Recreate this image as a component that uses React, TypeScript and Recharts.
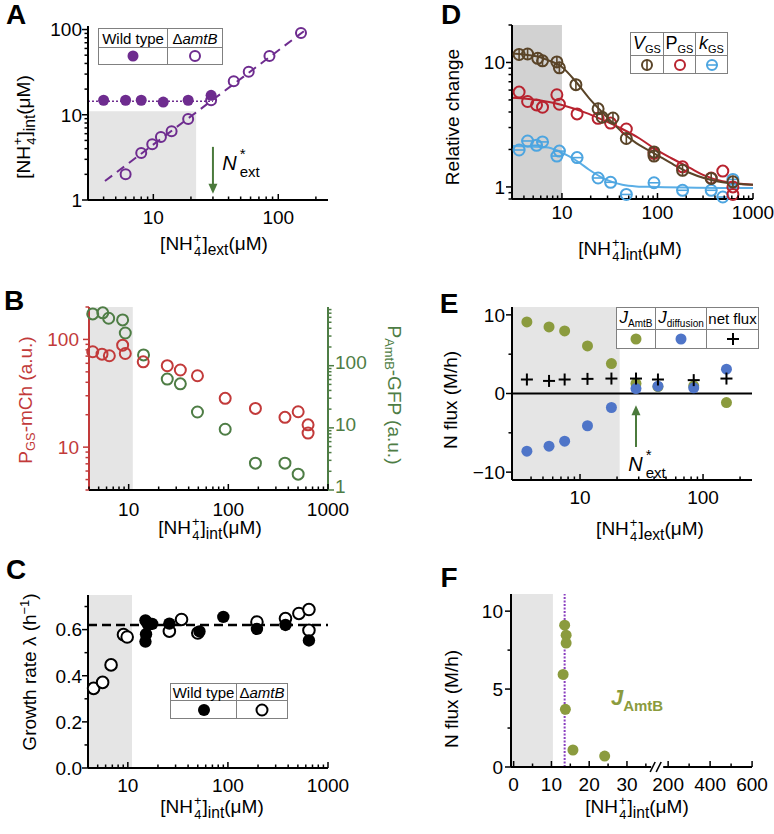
import React from "react";
import {
  ComposedChart,
  XAxis,
  YAxis,
  Scatter,
  Line,
  ReferenceArea,
  ReferenceLine,
} from "recharts";

const W = 774;
const H = 834;
const FONT = '"Liberation Sans", Arial, Helvetica, sans-serif';

const PURPLE = "#6e2c8f";
const ARROW_GREEN = "#4b7a3c";
const B_RED = "#c23a3a";
const B_GREEN = "#4e7d45";
const D_BROWN = "#5a4428";
const D_RED = "#b8232f";
const D_BLUE = "#4da5e0";
const OLIVE = "#8b9b3e";
const E_BLUE = "#4f75c8";
const SHADE = "#e5e5e5";
const SHADE_D = "#d2d2d2";

// ---- A: internal vs external ammonium ----
const A_WT_EXT = [4, 6, 8, 12, 19, 29];
const A_WT_INT = [14.8, 14.8, 14.8, 14.1, 14.8, 16.9];
const A_KO_EXT = [6, 8, 9.8, 11.5, 14, 19, 29, 44, 58, 85, 152];
const A_KO_INT = [2.0, 3.55, 4.5, 5.5, 6.4, 8.9, 14.8, 24.7, 32, 49, 91];
const A_WT_LEVEL_EXT = [3, 30];
const A_WT_LEVEL = [14.4, 14.4];
const A_KO_FIT_EXT = [4.1, 167];
const A_KO_FIT = [1.67, 100];
const A_X_TICKS = [4, 5, 6, 7, 8, 9, 10, 20, 30, 40, 50, 60, 70, 80, 90, 100, 200];
const A_X_LABELS = { 10: "10", 100: "100" };
const A_Y_TICKS = [1, 2, 3, 4, 5, 6, 7, 8, 9, 10, 20, 30, 40, 50, 60, 70, 80, 90, 100];
const A_Y_LABELS = { 1: "1", 10: "10", 100: "100" };

// ---- B: reporters ----
const B_RED_INT = [4.36, 5.4, 6.4, 8.7, 9.25, 14, 24.4, 33, 49, 93, 187, 370, 502, 631, 631];
const B_RED_VAL = [76.8, 73, 70.5, 88.5, 74, 62, 57, 52, 46, 28.4, 22.9, 18.9, 21.3, 16.1, 13.5];
const B_GREEN_INT = [4.36, 5.5, 6.3, 8.7, 9.25, 14.1, 24.4, 33, 49, 93, 187, 370, 502];
const B_GREEN_VAL = [682, 708, 580, 545, 336, 149, 61, 51, 18, 9.5, 2.7, 2.7, 1.8];
const LOG_X_TICKS = [4, 5, 6, 7, 8, 9, 10, 20, 30, 40, 50, 60, 70, 80, 90, 100, 200, 300, 400, 500, 600, 700, 800, 900, 1000];
const LOG_X_LABELS = { 10: "10", 100: "100", 1000: "1000" };
const B_RED_TICKS = [4, 5, 6, 7, 8, 9, 10, 20, 30, 40, 50, 60, 70, 80, 90, 100, 200];
const B_RED_LABELS = { 10: "10", 100: "100" };
const B_GREEN_TICKS = [1, 2, 3, 4, 5, 6, 7, 8, 9, 10, 20, 30, 40, 50, 60, 70, 80, 90, 100, 200, 300, 400, 500, 600, 700, 800];
const B_GREEN_LABELS = { 1: "1", 10: "10", 100: "100" };

// ---- C: growth rate ----
const C_KO_INT = [4.55, 5.6, 6.8, 9.05, 9.85, 26, 34.4, 50, 195, 376, 512, 645, 645];
const C_KO_RATE = [0.345, 0.371, 0.447, 0.578, 0.568, 0.593, 0.644, 0.585, 0.633, 0.648, 0.67, 0.687, 0.597];
const C_WT_INT = [15, 15.5, 16, 15.2, 15, 17.5, 26, 52, 90, 195, 376, 645];
const C_WT_RATE = [0.64, 0.632, 0.62, 0.58, 0.548, 0.625, 0.626, 0.592, 0.655, 0.603, 0.62, 0.553];
const C_MEAN_RATE = 0.62;
const C_Y_TICKS = [0, 0.1, 0.2, 0.3, 0.4, 0.5, 0.6, 0.7];
const C_Y_LABELS = { 0: "0.0", 0.2: "0.2", 0.4: "0.4", 0.6: "0.6" };

// ---- D: relative change ----
const D_V_INT = [3.56, 4.37, 5.58, 6.26, 8.85, 9.4, 14, 23.9, 26.4, 34.2, 47.2, 92, 92, 183, 365, 616];
const D_V = [11.6, 11.7, 10.8, 10.3, 10.1, 9.06, 6.63, 4.24, 3.63, 3.58, 2.45, 1.91, 1.77, 1.36, 1.17, 1.1];
const D_P_INT = [3.56, 4.37, 5.42, 6.26, 8.85, 9.4, 14.4, 23.9, 32.3, 47.2, 92, 183, 365, 483, 616, 616];
const D_P = [5.78, 4.86, 4.56, 4.37, 5.5, 4.62, 3.86, 3.56, 3.26, 2.92, 1.86, 1.45, 1.18, 1.34, 1.0, 0.87];
const D_K_INT = [3.56, 4.37, 5.42, 6.26, 8.85, 9.4, 14.4, 23.9, 32.3, 47.2, 92, 183, 365, 483, 616];
const D_K = [1.98, 2.34, 2.16, 2.3, 1.77, 1.94, 1.72, 1.18, 1.09, 0.87, 1.08, 0.94, 0.94, 0.83, 1.15];
const D_V_FIT_INT = [3, 4, 5.7, 7, 10, 14, 19.1, 28, 42.8, 60, 96, 150, 216, 480, 1000];
const D_V_FIT = [11.8, 11.6, 11.1, 10.5, 9.2, 7.0, 5.2, 3.8, 2.75, 2.25, 1.83, 1.5, 1.3, 1.09, 1.04];
const D_P_FIT_INT = [3, 6, 10, 19.1, 28, 42.8, 65, 96, 140, 216, 300, 480, 1000];
const D_P_FIT = [5.2, 4.95, 4.56, 3.86, 3.4, 2.92, 2.45, 2.0, 1.7, 1.43, 1.25, 1.11, 1.04];
const D_K_FIT_INT = [3, 7.2, 9, 11.8, 15, 19.1, 28.6, 42.8, 60, 96, 1000];
const D_K_FIT = [2.13, 2.07, 1.95, 1.77, 1.58, 1.38, 1.15, 1.04, 1.01, 1.0, 0.98];
const D_X_TICKS = [3, ...LOG_X_TICKS];
const D_Y_TICKS = [0.8, 0.9, 1, 2, 3, 4, 5, 6, 7, 8, 9, 10, 20];
const D_Y_LABELS = { 1: "1", 10: "10" };

// ---- E: fluxes ----
const E_EXT = [3.7, 5.6, 7.5, 11.5, 18, 28.5, 43, 84, 155];
const E_AMTB = [9.1, 8.46, 7.95, 6.05, 3.8, 1.27, 0.87, 0.98, -1.15];
const E_DIFF = [-7.33, -6.7, -6.06, -4.1, -1.78, 0.63, 0.93, 0.72, 3.09];
const E_NET = [1.78, 1.6, 1.78, 1.86, 1.9, 1.9, 1.78, 1.7, 1.9];
const E_X_TICKS = [4, 5, 6, 7, 8, 9, 10, 20, 30, 40, 50, 60, 70, 80, 90, 100, 200];
const E_X_LABELS = { 10: "10", 100: "100" };
const E_Y_TICKS = [-10, -5, 0, 5, 10];
const E_Y_LABELS = { "-10": "\u221210", 0: "0", 10: "10" };

// ---- F: J_AmtB vs internal ----
const F_INT = [13.5, 13.9, 13.9, 13.1, 13.7, 15.7, 24.1];
const F_AMTB = [9.1, 8.46, 7.95, 5.94, 3.7, 1.09, 0.7];
const F_WT_LEVEL = 13.5;
const F_LOW_TICKS = [0, 5, 10, 15, 20, 25, 30, 35];
const F_HIGH_TICKS = [200, 300, 400, 500, 600];
const F_MAJOR = [0, 10, 20, 30, 200, 400, 600];
const F_BREAK = 38;
const F_Y_TICKS = [0, 2.5, 5, 7.5, 10];
const F_Y_LABELS = { 0: "0", 5: "5", 10: "10" };

// broken x axis: linear up to the break, compressed 200-600 segment after it
const brokenX = (v: number) => (v <= F_BREAK ? v : 40.9 + (v - 200) / 18);
const F_X_TICKS = [...F_LOW_TICKS, F_BREAK, ...F_HIGH_TICKS.map(brokenX)];
const F_X_LABELS: Record<string, string> = {};
F_MAJOR.forEach((v) => {
  F_X_LABELS[String(brokenX(v))] = String(v);
});

type Geo = { left: number; top: number; right: number; bottom: number };
const A_GEO: Geo = { left: 88, top: 26, right: 328, bottom: 200 };
const B_GEO: Geo = { left: 89, top: 307, right: 328, bottom: 490 };
const C_GEO: Geo = { left: 88, top: 595, right: 328, bottom: 768 };
const D_GEO: Geo = { left: 512, top: 25, right: 753, bottom: 199 };
const E_GEO: Geo = { left: 512, top: 307, right: 752, bottom: 480 };
const F_GEO: Geo = { left: 511, top: 594, right: 752, bottom: 767 };

const pts = (xs: number[], ys: number[]) => xs.map((x, i) => ({ x, y: ys[i] }));
const AXIS = { stroke: "#000", strokeWidth: 2 };

type Side = "bottom" | "left" | "right";
function tickRenderer(
  side: Side,
  labels: Record<string, string>,
  opts: { color?: string; gap?: number; breakAt?: number; dy?: number } = {}
) {
  const color = opts.color ?? "#000";
  const gap = opts.gap ?? 10;
  const dy = opts.dy ?? 6.8;
  return (props: any) => {
    const { x, y, payload } = props;
    const v = payload.value as number;
    const label = labels[String(v)];
    const major = label !== undefined;
    const len = major ? 6 : 3.5;
    if (opts.breakAt !== undefined && v === opts.breakAt) {
      return (
        <g>
          <rect x={x - 6} y={y - 3} width={12} height={6} fill="#fff" />
          <line x1={x - 7} y1={y + 5} x2={x - 2} y2={y - 5} stroke="#000" strokeWidth={1.6} />
          <line x1={x - 1} y1={y + 5} x2={x + 4} y2={y - 5} stroke="#000" strokeWidth={1.6} />
        </g>
      );
    }
    if (side === "bottom") {
      return (
        <g>
          <line x1={x} y1={y} x2={x} y2={y - len} stroke={color} strokeWidth={1.5} />
          {major && (
            <text x={x} y={y + gap + 13.6} textAnchor="middle" fontSize={19} fontFamily={FONT} fill={color}>
              {label}
            </text>
          )}
        </g>
      );
    }
    const dir = side === "left" ? -1 : 1;
    return (
      <g>
        <line x1={x} y1={y} x2={x + dir * len} y2={y} stroke={color} strokeWidth={1.5} />
        {major && (
          <text
            x={x + dir * gap}
            y={y + dy}
            textAnchor={side === "left" ? "end" : "start"}
            fontSize={19}
            fontFamily={FONT}
            fill={color}
          >
            {label}
          </text>
        )}
      </g>
    );
  };
}

const openCircle = (color: string, r = 5, fill = "none") => (p: any) => (
  <circle cx={p.cx} cy={p.cy} r={r} fill={fill} stroke={color} strokeWidth={2} />
);
const dot = (color: string, r = 5.5) => (p: any) => <circle cx={p.cx} cy={p.cy} r={r} fill={color} />;
const barCircle = (color: string, vertical: boolean) => (p: any) => (
  <g>
    <circle cx={p.cx} cy={p.cy} r={5.5} fill="none" stroke={color} strokeWidth={2} />
    {vertical ? (
      <line x1={p.cx} y1={p.cy - 6} x2={p.cx} y2={p.cy + 6} stroke={color} strokeWidth={1.6} />
    ) : (
      <line x1={p.cx - 6} y1={p.cy} x2={p.cx + 6} y2={p.cy} stroke={color} strokeWidth={1.6} />
    )}
  </g>
);
const plus = (p: any) => (
  <g stroke="#000" strokeWidth={2}>
    <line x1={p.cx - 6} y1={p.cy} x2={p.cx + 6} y2={p.cy} />
    <line x1={p.cx} y1={p.cy - 6} x2={p.cx} y2={p.cy + 6} />
  </g>
);
const headDown = (p: any) => (
  <polygon points={`${p.cx - 4.5},${p.cy - 10} ${p.cx + 4.5},${p.cy - 10} ${p.cx},${p.cy}`} fill={ARROW_GREEN} />
);
const headUp = (p: any) => (
  <polygon points={`${p.cx - 4.5},${p.cy + 10} ${p.cx + 4.5},${p.cy + 10} ${p.cx},${p.cy}`} fill={ARROW_GREEN} />
);

// axes get a 1px box (a 0px box is not drawn), so margins are shifted by 1
function Panel({ g, rightAxis = false, children }: { g: Geo; rightAxis?: boolean; children: React.ReactNode }) {
  return (
    <div style={{ position: "absolute", left: 0, top: 0 }}>
      <ComposedChart
        width={W}
        height={H}
        margin={{
          top: g.top,
          left: g.left - 1,
          right: W - g.right - (rightAxis ? 1 : 0),
          bottom: H - g.bottom - 1,
        }}
      >
        {children}
      </ComposedChart>
    </div>
  );
}

const Txt = ({
  x,
  y,
  rot = 0,
  size = 19,
  color = "#000",
  bold = false,
  children,
}: {
  x: number;
  y: number;
  rot?: number;
  size?: number;
  color?: string;
  bold?: boolean;
  children: React.ReactNode;
}) => (
  <div
    style={{
      position: "absolute",
      left: x,
      top: y,
      transform: `translate(-50%, -50%) rotate(${rot}deg)`,
      fontSize: size,
      color,
      whiteSpace: "nowrap",
      lineHeight: 1,
      fontWeight: bold ? 700 : 400,
    }}
  >
    {children}
  </div>
);

const Ion = ({ sub }: { sub: string }) => (
  <span>
    [NH
    <span
      style={{
        display: "inline-block",
        verticalAlign: "-0.42em",
        lineHeight: 1.05,
        fontSize: "0.68em",
        textAlign: "center",
        margin: "0 1px",
      }}
    >
      +<br />4
    </span>
    ]<span style={{ fontSize: "0.82em", verticalAlign: "-0.3em" }}>{sub}</span>(μM)
  </span>
);

const NStar = () => (
  <span style={{ fontSize: 20, color: "#000" }}>
    <i style={{ marginRight: 3 }}>N</i>
    <span
      style={{ display: "inline-block", verticalAlign: "-0.5em", lineHeight: 1.2, fontSize: 15, textAlign: "left" }}
    >
      *<br />ext
    </span>
  </span>
);

const Sub = ({ main, sub, italic = true, size = 17, subSize = 10 }: any) => (
  <span style={{ fontSize: size }}>
    {italic ? <i>{main}</i> : main}
    <span style={{ fontSize: subSize, verticalAlign: "-0.35em" }}>{sub}</span>
  </span>
);

const Mark = ({ children }: { children: React.ReactNode }) => (
  <svg width={16} height={16} style={{ display: "block" }}>
    {children}
  </svg>
);

function LegendTable({
  left,
  top,
  cols,
  rows,
  head,
  marks,
}: {
  left: number;
  top: number;
  cols: number[];
  rows: number[];
  head: React.ReactNode[];
  marks: React.ReactNode[];
}) {
  const line = "1.5px solid #808080";
  return (
    <div
      style={{
        position: "absolute",
        left,
        top,
        display: "grid",
        gridTemplateColumns: cols.map((c) => c + "px").join(" "),
        gridTemplateRows: rows.map((r) => r + "px").join(" "),
        border: line,
        background: "#fff",
        fontSize: 15,
        lineHeight: 1,
      }}
    >
      {head.map((h, i) => (
        <div
          key={"h" + i}
          style={{
            borderRight: i < cols.length - 1 ? line : "none",
            borderBottom: line,
            display: "flex",
            alignItems: "center",
            justifyContent: "center",
            whiteSpace: "nowrap",
          }}
        >
          {h}
        </div>
      ))}
      {marks.map((m, i) => (
        <div
          key={"m" + i}
          style={{
            borderRight: i < cols.length - 1 ? line : "none",
            display: "flex",
            alignItems: "center",
            justifyContent: "center",
          }}
        >
          {m}
        </div>
      ))}
    </div>
  );
}

const axisCommon = { type: "number" as const, interval: 0, tickSize: 0, tickMargin: 0, tickLine: false };

export default function App() {
  return (
    <div
      style={{
        position: "absolute",
        left: 0,
        top: 0,
        width: W,
        height: H,
        background: "#fff",
        fontFamily: FONT,
        overflow: "hidden",
      }}
    >
      {/* A */}
      <Panel g={A_GEO}>
        <XAxis {...axisCommon} dataKey="x" scale="log" domain={[3, 250]} ticks={A_X_TICKS} height={1} axisLine={AXIS} tick={tickRenderer("bottom", A_X_LABELS, { gap: 10 })} />
        <YAxis {...axisCommon} dataKey="y" scale="log" domain={[1, 110]} ticks={A_Y_TICKS} width={1} axisLine={AXIS} tick={tickRenderer("left", A_Y_LABELS, { gap: 6 })} />
        <ReferenceArea x1={3} x2={22} y1={1} y2={11} fill={SHADE} fillOpacity={1} stroke="none" />
        <Line data={pts(A_WT_LEVEL_EXT, A_WT_LEVEL)} dataKey="y" stroke={PURPLE} strokeWidth={1.6} strokeDasharray="2 2" dot={false} activeDot={false} isAnimationActive={false} />
        <Line data={pts(A_KO_FIT_EXT, A_KO_FIT)} dataKey="y" stroke={PURPLE} strokeWidth={2} strokeDasharray="9 6" dot={false} activeDot={false} isAnimationActive={false} />
        <Line data={pts([30, 30], [4.2, 1.28])} dataKey="y" stroke={ARROW_GREEN} strokeWidth={2} dot={false} activeDot={false} isAnimationActive={false} />
        <Scatter data={pts([30], [1.18])} shape={headDown} isAnimationActive={false} />
        <Scatter data={pts(A_WT_EXT, A_WT_INT)} shape={dot(PURPLE, 5.5)} isAnimationActive={false} />
        <Scatter data={pts(A_KO_EXT, A_KO_INT)} shape={openCircle(PURPLE, 5)} isAnimationActive={false} />
      </Panel>

      {/* B */}
      <Panel g={B_GEO} rightAxis>
        <XAxis {...axisCommon} dataKey="x" scale="log" domain={[4, 1000]} ticks={LOG_X_TICKS} height={1} axisLine={AXIS} tick={tickRenderer("bottom", LOG_X_LABELS, { gap: 12 })} />
        <YAxis {...axisCommon} yAxisId="red" dataKey="y" scale="log" domain={[4, 200]} ticks={B_RED_TICKS} width={1} axisLine={{ stroke: B_RED, strokeWidth: 2 }} tick={tickRenderer("left", B_RED_LABELS, { gap: 10, color: B_RED })} />
        <YAxis {...axisCommon} yAxisId="green" orientation="right" dataKey="y" scale="log" domain={[1, 880]} ticks={B_GREEN_TICKS} width={1} axisLine={{ stroke: B_GREEN, strokeWidth: 2 }} tick={tickRenderer("right", B_GREEN_LABELS, { gap: 7, color: B_GREEN, dy: 3 })} />
        <ReferenceArea yAxisId="red" x1={4} x2={11} y1={4} y2={200} fill={SHADE} fillOpacity={1} stroke="none" />
        <Scatter yAxisId="green" data={pts(B_GREEN_INT, B_GREEN_VAL)} shape={openCircle(B_GREEN, 5.5)} isAnimationActive={false} />
        <Scatter yAxisId="red" data={pts(B_RED_INT, B_RED_VAL)} shape={openCircle(B_RED, 5.5)} isAnimationActive={false} />
      </Panel>

      {/* C */}
      <Panel g={C_GEO}>
        <XAxis {...axisCommon} dataKey="x" scale="log" domain={[4, 1000]} ticks={LOG_X_TICKS} height={1} axisLine={AXIS} tick={tickRenderer("bottom", LOG_X_LABELS, { gap: 10 })} />
        <YAxis {...axisCommon} dataKey="y" domain={[0, 0.75]} ticks={C_Y_TICKS} width={1} axisLine={AXIS} tick={tickRenderer("left", C_Y_LABELS, { gap: 6 })} />
        <ReferenceArea x1={4} x2={11} y1={0} y2={0.75} fill={SHADE} fillOpacity={1} stroke="none" />
        <ReferenceLine y={C_MEAN_RATE} stroke="#000" strokeWidth={2.5} strokeDasharray="9 5" />
        <Scatter data={pts(C_KO_INT, C_KO_RATE)} shape={openCircle("#000", 5.8, "#fff")} isAnimationActive={false} />
        <Scatter data={pts(C_WT_INT, C_WT_RATE)} shape={dot("#000", 6.2)} isAnimationActive={false} />
      </Panel>

      {/* D */}
      <Panel g={D_GEO}>
        <XAxis {...axisCommon} dataKey="x" scale="log" domain={[3, 1000]} ticks={D_X_TICKS} height={1} axisLine={AXIS} tick={tickRenderer("bottom", LOG_X_LABELS, { gap: 6 })} />
        <YAxis {...axisCommon} dataKey="y" scale="log" domain={[0.8, 20]} ticks={D_Y_TICKS} width={1} axisLine={AXIS} tick={tickRenderer("left", D_Y_LABELS, { gap: 7 })} />
        <ReferenceArea x1={3} x2={10} y1={0.8} y2={20} fill={SHADE_D} fillOpacity={1} stroke="none" />
        <Line type="monotone" data={pts(D_K_FIT_INT, D_K_FIT)} dataKey="y" stroke="#5aaee6" strokeWidth={2} dot={false} activeDot={false} isAnimationActive={false} />
        <Line type="monotone" data={pts(D_P_FIT_INT, D_P_FIT)} dataKey="y" stroke={D_RED} strokeWidth={2} dot={false} activeDot={false} isAnimationActive={false} />
        <Line type="monotone" data={pts(D_V_FIT_INT, D_V_FIT)} dataKey="y" stroke={D_BROWN} strokeWidth={2} dot={false} activeDot={false} isAnimationActive={false} />
        <Scatter data={pts(D_K_INT, D_K)} shape={barCircle(D_BLUE, false)} isAnimationActive={false} />
        <Scatter data={pts(D_P_INT, D_P)} shape={openCircle(D_RED, 5.5)} isAnimationActive={false} />
        <Scatter data={pts(D_V_INT, D_V)} shape={barCircle(D_BROWN, true)} isAnimationActive={false} />
      </Panel>

      {/* E */}
      <Panel g={E_GEO}>
        <XAxis {...axisCommon} dataKey="x" scale="log" domain={[2.8, 250]} ticks={E_X_TICKS} height={1} axisLine={AXIS} tick={tickRenderer("bottom", E_X_LABELS, { gap: 10 })} />
        <YAxis {...axisCommon} dataKey="y" domain={[-11, 11]} ticks={E_Y_TICKS} width={1} axisLine={AXIS} tick={tickRenderer("left", E_Y_LABELS, { gap: 7 })} />
        <ReferenceArea x1={2.8} x2={21} y1={-11} y2={11} fill={SHADE} fillOpacity={1} stroke="none" />
        <ReferenceLine y={0} stroke="#000" strokeWidth={2} />
        <Line data={pts([28.5, 28.5], [-6.8, -2.3])} dataKey="y" stroke={ARROW_GREEN} strokeWidth={2} dot={false} activeDot={false} isAnimationActive={false} />
        <Scatter data={pts([28.5], [-1.5])} shape={headUp} isAnimationActive={false} />
        <Scatter data={pts(E_EXT, E_AMTB)} shape={dot(OLIVE, 5.5)} isAnimationActive={false} />
        <Scatter data={pts(E_EXT, E_DIFF)} shape={dot(E_BLUE, 5.5)} isAnimationActive={false} />
        <Scatter data={pts(E_EXT, E_NET)} shape={plus} isAnimationActive={false} />
      </Panel>

      {/* F */}
      <Panel g={F_GEO}>
        <XAxis {...axisCommon} dataKey="x" domain={[-0.7, 63.1]} ticks={F_X_TICKS} height={1} axisLine={AXIS} tick={tickRenderer("bottom", F_X_LABELS, { gap: 10, breakAt: F_BREAK })} />
        <YAxis {...axisCommon} dataKey="y" domain={[0, 11.1]} ticks={F_Y_TICKS} width={1} axisLine={AXIS} tick={tickRenderer("left", F_Y_LABELS, { gap: 8 })} />
        <ReferenceArea x1={-0.7} x2={10.4} y1={0} y2={11.1} fill={SHADE} fillOpacity={1} stroke="none" />
        <ReferenceLine x={F_WT_LEVEL} stroke="#8a3fc0" strokeWidth={2} strokeDasharray="2 1.5" />
        <Scatter data={pts(F_INT.map(brokenX), F_AMTB)} shape={dot(OLIVE, 5.5)} isAnimationActive={false} />
      </Panel>

      {/* panel letters */}
      <Txt x={16} y={15} size={28} bold>A</Txt>
      <Txt x={14} y={301} size={28} bold>B</Txt>
      <Txt x={16} y={570} size={28} bold>C</Txt>
      <Txt x={451} y={15} size={28} bold>D</Txt>
      <Txt x={449} y={304} size={28} bold>E</Txt>
      <Txt x={449} y={578} size={28} bold>F</Txt>

      {/* axis titles */}
      <Txt x={214} y={245}><Ion sub="ext" /></Txt>
      <Txt x={25} y={127} rot={-90}><Ion sub="int" /></Txt>

      <Txt x={210} y={529}><Ion sub="int" /></Txt>
      <Txt x={27} y={400} rot={-90} color={B_RED}>
        P<span style={{ fontSize: "0.68em", verticalAlign: "-0.3em" }}>GS</span>-mCh (a.u.)
      </Txt>
      <Txt x={393} y={395} rot={90} color={B_GREEN}>
        P<span style={{ fontSize: "0.68em", verticalAlign: "-0.3em" }}>AmtB</span>-GFP (a.u.)
      </Txt>

      <Txt x={212} y={808}><Ion sub="int" /></Txt>
      <Txt x={29} y={672} rot={-90}>
        Growth rate λ (h<span style={{ fontSize: "0.68em", verticalAlign: "0.5em" }}>−1</span>)
      </Txt>

      <Txt x={630} y={250}><Ion sub="int" /></Txt>
      <Txt x={452} y={117} rot={-90}>Relative change</Txt>

      <Txt x={650} y={530}><Ion sub="ext" /></Txt>
      <Txt x={450} y={400} rot={-90}>N flux (M/h)</Txt>

      <Txt x={637} y={808}><Ion sub="int" /></Txt>
      <Txt x={451} y={699} rot={-90}>N flux (M/h)</Txt>

      {/* annotations */}
      <Txt x={241} y={163}><NStar /></Txt>
      <Txt x={647} y={464}><NStar /></Txt>
      <Txt x={637} y={700} color={OLIVE} bold>
        <span style={{ fontSize: 22 }}>
          <i>J</i>
          <span style={{ fontSize: 15, verticalAlign: "-0.4em" }}>AmtB</span>
        </span>
      </Txt>

      {/* legends */}
      <LegendTable
        left={98}
        top={28}
        cols={[69, 54]}
        rows={[19, 16]}
        head={["Wild type", <span key="k">Δ<i>amtB</i></span>]}
        marks={[
          <Mark key="a"><circle cx={8} cy={8} r={5.5} fill={PURPLE} /></Mark>,
          <Mark key="b"><circle cx={8} cy={8} r={5} fill="none" stroke={PURPLE} strokeWidth={2} /></Mark>,
        ]}
      />
      <LegendTable
        left={170}
        top={683}
        cols={[66, 50]}
        rows={[17, 17]}
        head={["Wild type", <span key="k">Δ<i>amtB</i></span>]}
        marks={[
          <Mark key="a"><circle cx={8} cy={8} r={6} fill="#000" /></Mark>,
          <Mark key="b"><circle cx={8} cy={8} r={5.5} fill="none" stroke="#000" strokeWidth={2} /></Mark>,
        ]}
      />
      <LegendTable
        left={630}
        top={32}
        cols={[33, 32, 31]}
        rows={[23, 17]}
        head={[
          <Sub key="v" main="V" sub="GS" size={18} subSize={11} />,
          <Sub key="p" main="P" sub="GS" italic={false} size={18} subSize={11} />,
          <Sub key="k" main="k" sub="GS" size={18} subSize={11} />,
        ]}
        marks={[
          <Mark key="a">
            <circle cx={8} cy={8} r={5} fill="none" stroke={D_BROWN} strokeWidth={2} />
            <line x1={8} y1={2.5} x2={8} y2={13.5} stroke={D_BROWN} strokeWidth={1.6} />
          </Mark>,
          <Mark key="b"><circle cx={8} cy={8} r={5} fill="none" stroke={D_RED} strokeWidth={2} /></Mark>,
          <Mark key="c">
            <circle cx={8} cy={8} r={5} fill="none" stroke={D_BLUE} strokeWidth={2} />
            <line x1={2.5} y1={8} x2={13.5} y2={8} stroke={D_BLUE} strokeWidth={1.6} />
          </Mark>,
        ]}
      />
      <LegendTable
        left={616}
        top={307}
        cols={[39, 51, 51]}
        rows={[22, 18]}
        head={[
          <Sub key="a" main="J" sub="AmtB" />,
          <Sub key="d" main="J" sub="diffusion" />,
          "net flux",
        ]}
        marks={[
          <Mark key="a"><circle cx={8} cy={8} r={5.5} fill={OLIVE} /></Mark>,
          <Mark key="b"><circle cx={8} cy={8} r={5.5} fill={E_BLUE} /></Mark>,
          <Mark key="c">
            <line x1={2} y1={8} x2={14} y2={8} stroke="#000" strokeWidth={2} />
            <line x1={8} y1={2} x2={8} y2={14} stroke="#000" strokeWidth={2} />
          </Mark>,
        ]}
      />
    </div>
  );
}
